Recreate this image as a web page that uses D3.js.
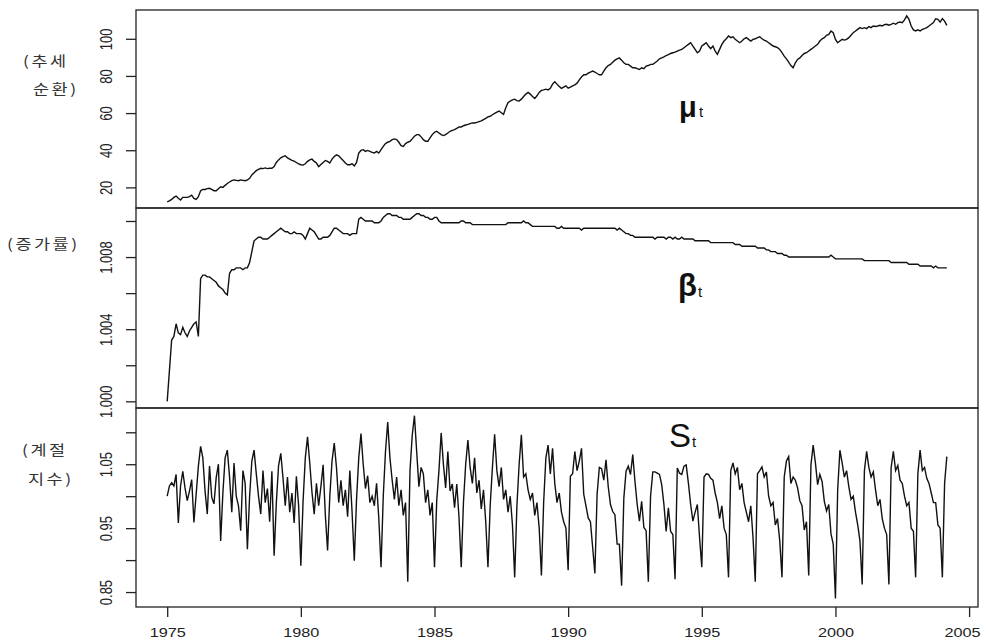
<!DOCTYPE html>
<html>
<head>
<meta charset="utf-8">
<script src="https://d3js.org/d3.v7.min.js"></script>
<style>
  * { margin: 0; padding: 0; }
  body { background: #fff; width: 982px; height: 641px; overflow: hidden; }
  .tick text { font-family: "Liberation Sans", Arial, sans-serif; font-size: 13px; fill: #222; }
  .kor { font-family: "Noto Sans CJK KR", sans-serif; font-size: 14px; fill: #333; letter-spacing: 2px; }
  .sym { font-family: "Liberation Sans", Arial, sans-serif; fill: #111; }
</style>
</head>
<body>
<div id="chart"></div>
<script>
// monthly series, Jan 1975 .. Mar 2004
const startYear = 1975;

// trend (mu_t)
const trend = [
  12.2, 12.7, 13.5, 14.6, 15.3, 14.1, 13.2, 14.6, 14.6, 14.6, 15.0, 15.8,   // 1975
  14.1, 13.5, 15.0, 18.2, 18.9, 18.9, 19.3, 19.5, 18.9, 18.2, 18.2, 19.3,   // 1976
  20.3, 20.0, 21.1, 22.1, 22.9, 23.6, 24.0, 23.8, 23.6, 24.0, 23.8, 23.6,   // 1977
  24.0, 24.9, 26.7, 27.9, 29.0, 29.7, 30.3, 30.1, 30.5, 30.1, 30.3, 30.3,   // 1978
  31.2, 33.4, 34.8, 35.9, 36.6, 37.0, 35.9, 35.2, 34.5, 34.1, 33.4, 32.7,   // 1979
  32.2, 32.0, 32.7, 34.0, 34.8, 35.2, 34.0, 33.1, 31.2, 32.3, 33.4, 34.5,   // 1980
  34.0, 33.1, 35.2, 36.6, 37.5, 37.0, 35.7, 34.5, 33.1, 32.2, 32.2, 32.7,   // 1981
  31.6, 33.4, 38.5, 39.9, 40.3, 39.4, 39.9, 39.4, 38.8, 38.5, 39.4, 38.5,   // 1982
  40.3, 42.1, 43.6, 44.3, 44.8, 45.7, 46.1, 45.7, 44.3, 42.5, 42.1, 43.6,   // 1983
  44.3, 44.8, 46.1, 47.5, 48.4, 48.4, 47.2, 45.7, 44.8, 44.8, 46.6, 48.4,   // 1984
  49.7, 50.2, 49.3, 48.4, 47.9, 48.4, 49.3, 50.2, 50.7, 51.1, 51.8, 52.5,   // 1985
  52.5, 53.2, 53.6, 53.9, 54.3, 54.7, 54.7, 55.0, 55.4, 55.8, 56.5, 57.2,   // 1986
  58.0, 58.3, 59.1, 59.8, 60.5, 61.1, 60.2, 59.3, 62.9, 65.6, 66.5, 67.1,   // 1987
  67.5, 66.7, 66.5, 67.5, 68.9, 70.2, 71.1, 70.2, 68.9, 67.8, 69.3, 71.1,   // 1988
  72.2, 72.5, 72.9, 72.5, 73.3, 75.6, 76.9, 75.6, 74.3, 73.3, 74.0, 74.7,   // 1989
  73.4, 74.0, 74.7, 75.2, 76.1, 77.9, 79.4, 80.6, 80.6, 81.5, 82.1, 82.6,   // 1990
  82.1, 81.3, 80.6, 80.6, 82.6, 84.4, 85.6, 86.2, 87.4, 88.5, 89.2, 89.7,   // 1991
  88.5, 87.1, 86.2, 86.2, 85.3, 84.4, 84.4, 83.9, 83.5, 84.4, 83.9, 85.3,   // 1992
  85.6, 86.2, 86.2, 87.1, 88.0, 89.2, 89.7, 90.3, 91.0, 91.5, 92.1, 92.5,   // 1993
  92.8, 93.4, 93.9, 94.3, 95.2, 96.1, 97.0, 97.9, 96.1, 94.3, 92.5, 93.4,   // 1994
  96.1, 97.0, 97.9, 96.1, 94.7, 96.1, 93.4, 91.6, 94.3, 97.0, 98.8, 100.0,  // 1995
  101.5, 100.6, 101.1, 99.7, 98.8, 97.9, 98.8, 100.0, 100.6, 99.7, 98.8, 99.7, // 1996
  100.0, 100.6, 101.1, 100.0, 99.3, 98.8, 97.9, 97.0, 96.1, 95.7, 95.2, 94.3,  // 1997
  92.5, 90.7, 89.2, 87.4, 85.6, 84.4, 87.1, 88.9, 89.7, 91.0, 92.1, 92.5,      // 1998
  93.4, 94.3, 95.2, 96.1, 97.0, 98.8, 100.0, 100.6, 101.9, 102.4, 104.2, 103.3, // 1999
  99.7, 97.9, 98.8, 99.7, 99.3, 99.7, 100.6, 101.9, 103.3, 104.2, 105.1, 106.0, // 2000
  105.5, 106.0, 105.5, 106.6, 106.0, 106.9, 106.6, 106.9, 107.3, 106.9, 107.6, 107.8, // 2001
  107.3, 107.8, 108.4, 107.8, 108.7, 109.0, 108.7, 110.2, 112.3, 110.5, 106.9, 104.8, // 2002
  104.2, 104.8, 104.2, 105.1, 105.5, 106.0, 106.9, 107.8, 108.7, 110.8, 110.5, 109.0, // 2003
  110.8, 109.5, 107.2                                                          // 2004
];

// growth rate (beta_t)
const growth = [
  1.0000, 1.0017, 1.0034, 1.0036, 1.0043, 1.0038, 1.0037, 1.0041, 1.0038, 1.0036, 1.0039, 1.0041, // 1975
  1.0043, 1.0044, 1.0036, 1.0068, 1.0070, 1.0070, 1.0069, 1.0069, 1.0068, 1.0067, 1.0066, 1.0064, // 1976
  1.0063, 1.0062, 1.0060, 1.0059, 1.0071, 1.0073, 1.0073, 1.0074, 1.0074, 1.0074, 1.0073, 1.0074, // 1977
  1.0074, 1.0077, 1.0083, 1.0089, 1.0090, 1.0091, 1.0091, 1.0090, 1.0090, 1.0090, 1.0091, 1.0092, // 1978
  1.0093, 1.0094, 1.0095, 1.0096, 1.0095, 1.0094, 1.0094, 1.0093, 1.0093, 1.0094, 1.0093, 1.0093, // 1979
  1.0093, 1.0092, 1.0090, 1.0093, 1.0096, 1.0095, 1.0094, 1.0092, 1.0090, 1.0090, 1.0091, 1.0091, // 1980
  1.0091, 1.0092, 1.0094, 1.0096, 1.0096, 1.0095, 1.0094, 1.0093, 1.0093, 1.0093, 1.0092, 1.0093, // 1981
  1.0093, 1.0093, 1.0101, 1.0102, 1.0101, 1.0100, 1.0100, 1.0100, 1.0100, 1.0099, 1.0099, 1.0099, // 1982
  1.0100, 1.0102, 1.0103, 1.0104, 1.0104, 1.0103, 1.0103, 1.0103, 1.0102, 1.0102, 1.0101, 1.0101, // 1983
  1.0101, 1.0101, 1.0102, 1.0103, 1.0104, 1.0104, 1.0103, 1.0103, 1.0102, 1.0102, 1.0101, 1.0101, // 1984
  1.0102, 1.0102, 1.0100, 1.0099, 1.0099, 1.0099, 1.0099, 1.0099, 1.0099, 1.0099, 1.0099, 1.0099, // 1985
  1.0100, 1.0100, 1.0099, 1.0099, 1.0099, 1.0098, 1.0098, 1.0098, 1.0098, 1.0098, 1.0098, 1.0098, // 1986
  1.0098, 1.0098, 1.0098, 1.0098, 1.0098, 1.0098, 1.0098, 1.0098, 1.0098, 1.0099, 1.0099, 1.0099, // 1987
  1.0099, 1.0099, 1.0099, 1.0099, 1.0100, 1.0099, 1.0099, 1.0098, 1.0097, 1.0097, 1.0097, 1.0097, // 1988
  1.0097, 1.0097, 1.0097, 1.0097, 1.0097, 1.0097, 1.0097, 1.0096, 1.0096, 1.0097, 1.0096, 1.0096, // 1989
  1.0096, 1.0096, 1.0096, 1.0096, 1.0096, 1.0096, 1.0095, 1.0096, 1.0096, 1.0096, 1.0096, 1.0096, // 1990
  1.0096, 1.0096, 1.0096, 1.0096, 1.0096, 1.0096, 1.0096, 1.0096, 1.0096, 1.0096, 1.0095, 1.0096, // 1991
  1.0095, 1.0094, 1.0093, 1.0093, 1.0092, 1.0092, 1.0091, 1.0091, 1.0091, 1.0091, 1.0091, 1.0091, // 1992
  1.0091, 1.0091, 1.0091, 1.0090, 1.0091, 1.0091, 1.0091, 1.0091, 1.0090, 1.0091, 1.0091, 1.0090, // 1993
  1.0091, 1.0090, 1.0090, 1.0091, 1.0090, 1.0090, 1.0090, 1.0090, 1.0090, 1.0089, 1.0089, 1.0089, // 1994
  1.0089, 1.0089, 1.0089, 1.0089, 1.0088, 1.0088, 1.0088, 1.0088, 1.0088, 1.0088, 1.0088, 1.0088, // 1995
  1.0088, 1.0088, 1.0088, 1.0087, 1.0087, 1.0087, 1.0086, 1.0086, 1.0086, 1.0086, 1.0086, 1.0086, // 1996
  1.0086, 1.0085, 1.0085, 1.0085, 1.0085, 1.0084, 1.0084, 1.0083, 1.0083, 1.0083, 1.0082, 1.0082, // 1997
  1.0082, 1.0081, 1.0081, 1.0080, 1.0080, 1.0080, 1.0080, 1.0080, 1.0080, 1.0080, 1.0080, 1.0080, // 1998
  1.0080, 1.0080, 1.0080, 1.0080, 1.0080, 1.0080, 1.0080, 1.0080, 1.0080, 1.0080, 1.0081, 1.0080, // 1999
  1.0079, 1.0079, 1.0079, 1.0079, 1.0079, 1.0079, 1.0079, 1.0079, 1.0079, 1.0079, 1.0079, 1.0079, // 2000
  1.0079, 1.0078, 1.0078, 1.0078, 1.0078, 1.0078, 1.0078, 1.0078, 1.0078, 1.0078, 1.0078, 1.0078, // 2001
  1.0078, 1.0077, 1.0077, 1.0077, 1.0077, 1.0077, 1.0077, 1.0077, 1.0077, 1.0076, 1.0076, 1.0076, // 2002
  1.0076, 1.0076, 1.0075, 1.0075, 1.0075, 1.0075, 1.0075, 1.0075, 1.0074, 1.0075, 1.0074, 1.0074, // 2003
  1.0074, 1.0074, 1.0074                                                                          // 2004
];

// seasonal index (S_t)
const seasonal = [
  1.000, 1.016, 1.021, 1.016, 1.034, 0.958, 1.016, 1.039, 1.013, 0.993, 1.008, 1.026, // 1975
  0.959, 1.003, 1.047, 1.078, 1.060, 1.008, 0.972, 1.047, 0.998, 0.988, 1.029, 1.050, // 1976
  0.930, 1.005, 1.060, 1.072, 1.030, 0.975, 1.052, 1.000, 0.985, 0.946, 1.040, 1.020, // 1977
  0.917, 1.000, 1.055, 1.072, 1.035, 1.000, 0.972, 1.040, 0.990, 1.012, 0.960, 1.039, // 1978
  0.907, 0.990, 1.048, 1.067, 1.028, 0.985, 1.030, 0.975, 1.005, 0.958, 1.031, 0.985, // 1979
  0.891, 0.992, 1.060, 1.093, 1.052, 1.006, 0.972, 1.020, 0.985, 1.015, 1.049, 0.970, // 1980
  0.915, 1.000, 1.055, 1.083, 1.045, 0.990, 1.025, 0.985, 1.010, 0.968, 1.040, 0.975, // 1981
  0.899, 0.995, 1.060, 1.098, 1.050, 1.012, 1.032, 0.990, 1.000, 0.985, 1.020, 0.965, // 1982
  0.889, 1.000, 1.070, 1.116, 1.060, 1.025, 0.995, 1.030, 0.985, 1.010, 0.970, 0.990, // 1983
  0.866, 1.040, 1.095, 1.126, 1.070, 1.015, 1.045, 1.035, 0.990, 1.010, 0.970, 0.990, // 1984
  0.889, 0.993, 1.040, 1.099, 1.050, 1.013, 1.070, 1.008, 1.019, 0.982, 1.019, 0.967, // 1985
  0.889, 0.990, 1.050, 1.088, 1.045, 1.020, 1.060, 1.005, 1.025, 0.980, 1.010, 0.960, // 1986
  0.889, 0.985, 1.045, 1.097, 1.040, 1.015, 1.045, 0.995, 1.010, 0.975, 1.000, 0.955, // 1987
  0.873, 0.985, 1.050, 1.096, 1.030, 1.035, 1.010, 0.995, 1.005, 0.970, 0.990, 0.950, // 1988
  0.876, 0.990, 1.060, 1.080, 1.035, 1.075, 1.020, 0.990, 1.005, 0.975, 0.960, 0.950, // 1989
  0.884, 1.031, 1.035, 1.070, 1.040, 1.055, 1.075, 1.003, 0.985, 0.966, 0.960, 0.920, // 1990
  0.879, 1.003, 1.045, 1.043, 1.025, 1.057, 1.015, 0.987, 0.976, 0.971, 0.925, 0.925, // 1991
  0.860, 0.997, 1.039, 1.047, 1.034, 1.065, 1.023, 0.987, 0.961, 0.992, 0.951, 0.946, // 1992
  0.866, 1.000, 1.038, 1.038, 1.036, 1.034, 1.018, 0.987, 0.945, 0.982, 0.945, 0.940, // 1993
  0.870, 1.044, 1.036, 1.034, 1.047, 1.049, 1.020, 0.987, 0.961, 0.975, 0.987, 0.935, // 1994
  0.889, 1.030, 1.035, 1.034, 1.028, 1.025, 1.005, 0.990, 0.965, 0.985, 0.950, 0.940, // 1995
  0.873, 1.040, 1.052, 1.035, 1.045, 1.010, 1.020, 0.990, 0.975, 0.960, 0.985, 0.935, // 1996
  0.866, 1.035, 1.040, 1.046, 1.030, 1.038, 1.000, 0.985, 0.990, 0.955, 0.965, 0.930, // 1997
  0.873, 1.030, 1.055, 1.062, 1.020, 1.030, 1.025, 1.013, 0.993, 0.985, 0.947, 0.960, // 1998
  0.876, 1.049, 1.080, 1.052, 1.018, 1.034, 1.023, 0.992, 0.977, 0.987, 0.941, 0.925, // 1999
  0.840, 1.010, 1.072, 1.052, 1.030, 1.040, 1.015, 0.995, 1.000, 0.975, 0.955, 0.930, // 2000
  0.862, 1.040, 1.070, 1.045, 1.030, 1.038, 1.010, 0.985, 0.995, 0.965, 0.950, 0.940, // 2001
  0.862, 1.045, 1.070, 1.040, 1.048, 1.025, 1.020, 1.000, 0.985, 0.990, 0.950, 0.945, // 2002
  0.873, 1.035, 1.072, 1.040, 1.045, 1.028, 1.020, 1.005, 0.990, 0.990, 0.955, 0.950, // 2003
  0.873, 1.020, 1.062                                                                  // 2004
];

const yearTicks = [1975, 1980, 1985, 1990, 1995, 2000, 2005];
const trendTicks = [20, 40, 60, 80, 100];
const growthTicks = [1.000, 1.002, 1.004, 1.006, 1.008, 1.010];
const growthLabels = [1.000, 1.004, 1.008];
const seasonTicks = [0.85, 0.90, 0.95, 1.00, 1.05, 1.10];
const seasonLabels = [0.85, 0.95, 1.05];
const panelNames = [["(추세", "순환)"], ["(증가률)"], ["(계절", "지수)"]];
const symbols = ["μ", "β", "S"];

// ---- layout ----
const W = 982, H = 641;
const left = 136, right = 978;

const panels = [
  { data: trend, domain: [8.9, 115.5], top: 10, bottom: 208,
    ticks: trendTicks, labels: trendTicks, fmt: d3.format("d"),
    names: panelNames[0], namePos: [[23, 66], [33, 94]],
    sym: symbols[0], symPos: [679, 117], symSize: 29, symWeight: "bold", subPos: [699, 117] },
  { data: growth, domain: [0.99963, 1.01072], top: 208, bottom: 408,
    ticks: growthTicks, labels: growthLabels, fmt: d3.format(".3f"),
    names: panelNames[1], namePos: [[7, 249]],
    sym: symbols[1], symPos: [678, 296], symSize: 31, symWeight: "bold", subPos: [698, 297] },
  { data: seasonal, domain: [0.8266, 1.138], top: 408, bottom: 607,
    ticks: seasonTicks, labels: seasonLabels, fmt: d3.format(".2f"),
    names: panelNames[2], namePos: [[22, 455], [28, 484]],
    sym: symbols[2], symPos: [669, 447], symSize: 33, symWeight: "normal", subPos: [692, 447] }
];

const x = d3.scaleLinear().domain([1973.833, 2005.333]).range([left, right]);

const svg = d3.select("#chart").append("svg")
  .attr("width", W)
  .attr("height", H)
  .style("background", "#fff");

panels.forEach(p => {
  const y = d3.scaleLinear().domain(p.domain).range([p.bottom, p.top]);

  const line = d3.line()
    .x((d, i) => x(startYear + i / 12))
    .y(d => y(d));

  svg.append("path")
    .datum(p.data)
    .attr("d", line)
    .attr("fill", "none")
    .attr("stroke", "#111")
    .attr("stroke-width", 1.4)
    .attr("stroke-linejoin", "miter");

  const isLabel = v => p.labels.some(l => Math.abs(l - v) < 1e-9);
  const gy = svg.append("g")
    .attr("transform", `translate(${left},0)`)
    .call(d3.axisLeft(y)
      .tickValues(p.ticks)
      .tickSize(10)
      .tickFormat(v => isLabel(v) ? p.fmt(v) : ""));
  gy.select(".domain").remove();
  gy.selectAll(".tick line").attr("stroke", "#222").attr("stroke-width", 1.3);
  gy.selectAll(".tick text")
    .attr("x", 0)
    .attr("dy", 0)
    .attr("text-anchor", "middle")
    .attr("transform", "translate(-24,0) scale(1.2,1) rotate(-90)");

  svg.append("rect")
    .attr("x", left)
    .attr("y", p.top)
    .attr("width", right - left)
    .attr("height", p.bottom - p.top)
    .attr("fill", "none")
    .attr("stroke", "#222")
    .attr("stroke-width", 1.3);

  p.names.forEach((t, k) => {
    svg.append("text")
      .attr("class", "kor")
      .attr("transform", `translate(${p.namePos[k][0]},${p.namePos[k][1]}) scale(1.25,1)`)
      .text(t);
  });

  svg.append("text")
    .attr("class", "sym")
    .attr("x", p.symPos[0])
    .attr("y", p.symPos[1])
    .attr("font-size", p.symSize)
    .attr("font-weight", p.symWeight)
    .text(p.sym);
  svg.append("text")
    .attr("class", "sym")
    .attr("x", p.subPos[0])
    .attr("y", p.subPos[1])
    .attr("font-size", 15)
    .text("t");
});

// bottom time axis
const gx = svg.append("g")
  .attr("transform", `translate(0,${panels[2].bottom})`)
  .call(d3.axisBottom(x)
    .tickValues(yearTicks)
    .tickSize(10)
    .tickFormat(d3.format("d")));
gx.select(".domain").remove();
gx.selectAll(".tick line").attr("stroke", "#222").attr("stroke-width", 1.3);
gx.selectAll(".tick text")
  .attr("y", 0)
  .attr("dy", 0)
  .attr("transform", d => {
    // keep the last year label inside the picture
    const shift = Math.min(0, W - 1 - (x(d) + 19));
    return `translate(${shift},30) scale(1.25,1)`;
  });
</script>
</body>
</html>
